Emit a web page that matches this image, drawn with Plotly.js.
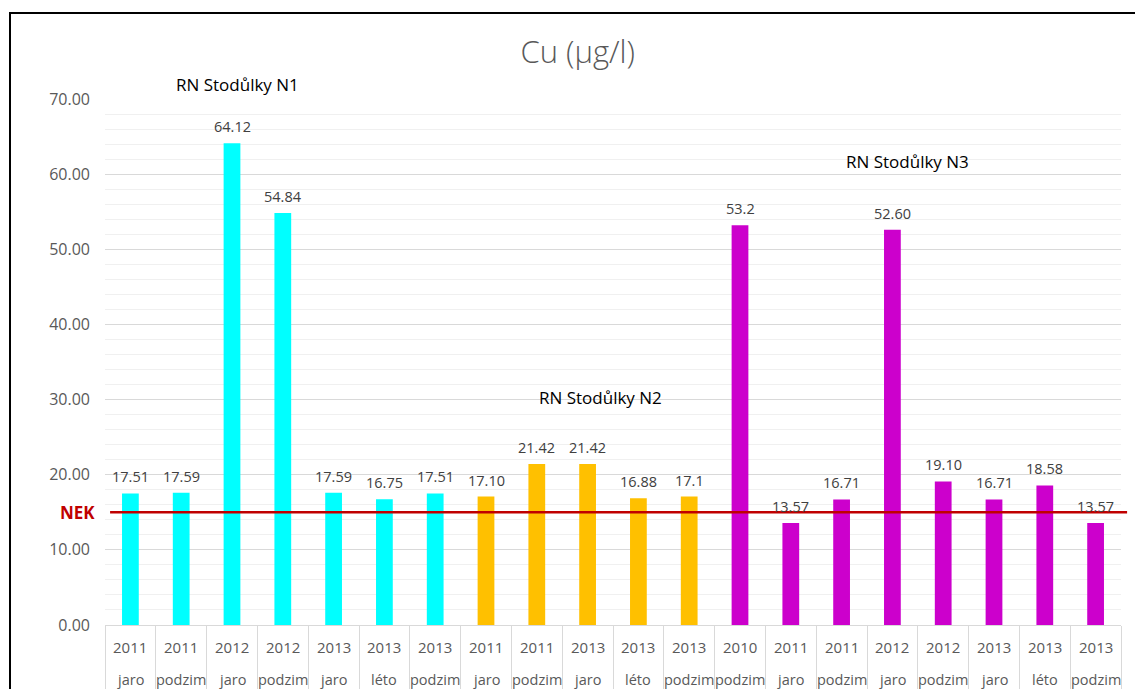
<!DOCTYPE html>
<html><head><meta charset="utf-8">
<script src="https://cdn.plot.ly/plotly-3.0.1.min.js"></script>
<style>
html,body{margin:0;padding:0;background:#fff;overflow:hidden}
#chart{width:1135px;height:689px}
#frame{position:absolute;left:9px;top:12px;width:1300px;height:900px;border-left:2px solid #000;border-top:2px solid #000;pointer-events:none}
</style>
</head><body>
<div id="chart"></div><div id="frame"></div>
<script>
const stations = ['N1','N1','N1','N1','N1','N1','N1','N2','N2','N2','N2','N2','N3','N3','N3','N3','N3','N3','N3','N3'];
const years = ['2011','2011','2012','2012','2013','2013','2013','2011','2011','2013','2013','2013','2010','2011','2011','2012','2012','2013','2013','2013'];
const seasons = ['jaro','podzim','jaro','podzim','jaro','léto','podzim','jaro','podzim','jaro','léto','podzim','podzim','jaro','podzim','jaro','podzim','jaro','léto','podzim'];
const values = [17.51,17.59,64.12,54.84,17.59,16.75,17.51,17.10,21.42,21.42,16.88,17.1,53.2,13.57,16.71,52.60,19.10,16.71,18.58,13.57];
const valueLabels = ['17.51','17.59','64.12','54.84','17.59','16.75','17.51','17.10','21.42','21.42','16.88','17.1','53.2','13.57','16.71','52.60','19.10','16.71','18.58','13.57'];
const stationKeys = ['N1','N2','N3'];
const stationNames = ['RN Stodůlky N1','RN Stodůlky N2','RN Stodůlky N3'];
const stationColors = ['#00FFFF','#FFC000','#CC00CC'];
const NEK = 15;
const titleText = 'Cu (µg/l)';

const cats = stations.map((s,i)=>s+' '+years[i]+' '+seasons[i]);

const traces = stationKeys.map((k,j)=>{
  const idx = stations.map((s,i)=>s===k?i:-1).filter(i=>i>=0);
  return {
    type:'bar', name:stationNames[j],
    x: idx.map(i=>cats[i]), y: idx.map(i=>values[i]),
    width:0.33, marker:{color:stationColors[j]}, hoverinfo:'x+y'
  };
});

const font = 'Open Sans, Liberation Sans, sans-serif';
const annotations = [];
cats.forEach((c,i)=>{
  annotations.push({x:c, y:values[i], xref:'x', yref:'y', text:valueLabels[i], showarrow:false,
    xanchor:'center', yanchor:'bottom', yshift:5, font:{family:font,size:14.5,color:'#404040'}});
  annotations.push({x:c, y:0, xref:'x', yref:'paper', text:years[i], showarrow:false,
    xanchor:'center', yanchor:'middle', yshift:-22, font:{family:font,size:15,color:'#595959'}});
  annotations.push({x:c, y:0, xref:'x', yref:'paper', text:seasons[i], showarrow:false,
    xanchor:'center', yanchor:'middle', yshift:-54, font:{family:font,size:14.5,color:'#595959'}});
});
const groupPos = [[0.13,1.027],[0.488,0.433],[0.79,0.882]];
stationNames.forEach((n,j)=>{
  annotations.push({x:groupPos[j][0], y:groupPos[j][1], xref:'paper', yref:'paper', text:n, showarrow:false,
    xanchor:'center', yanchor:'middle', font:{family:font,size:17,color:'#000000'}});
});
annotations.push({x:-0.008, y:NEK, xref:'paper', yref:'y', text:'<b>NEK</b>', showarrow:false,
  xanchor:'right', yanchor:'middle', font:{family:font,size:17,color:'#C00000'}});

const layout = {
  width:1135, height:689,
  margin:{l:105, r:14, t:99, b:64},
  paper_bgcolor:'rgba(0,0,0,0)', plot_bgcolor:'#ffffff',
  showlegend:false, barmode:'overlay',
  title:{text:titleText, x:0.509, xref:'container', y:0.9245, yref:'container', yanchor:'middle', xanchor:'center',
    font:{family:font,size:31,color:'#595959',weight:300}},
  xaxis:{type:'category', categoryorder:'array', categoryarray:cats, range:[-0.5,19.5],
    showticklabels:false, tickson:'boundaries', ticks:'outside', ticklen:64, tickcolor:'#d9d9d9', tickwidth:1,
    showgrid:false, showline:true, linecolor:'#d9d9d9', linewidth:1, zeroline:false, fixedrange:true},
  yaxis:{range:[0,70], dtick:10, tickformat:'.2f', showgrid:true, gridcolor:'#d9d9d9', gridwidth:1,
    minor:{dtick:2, showgrid:true, gridcolor:'#f0f0f0', gridwidth:1},
    zeroline:false, ticks:'', ticklabelstandoff:14,
    tickfont:{family:font,size:16,color:'#595959'}, fixedrange:true},
  shapes:[{type:'line', xref:'paper', yref:'y', x0:0.005, x1:1.006, y0:NEK, y1:NEK,
    line:{color:'#C00000', width:2.5}, layer:'above'}],
  annotations: annotations
};

Plotly.newPlot('chart', traces, layout, {displayModeBar:false, staticPlot:true});
</script>
</body></html>
